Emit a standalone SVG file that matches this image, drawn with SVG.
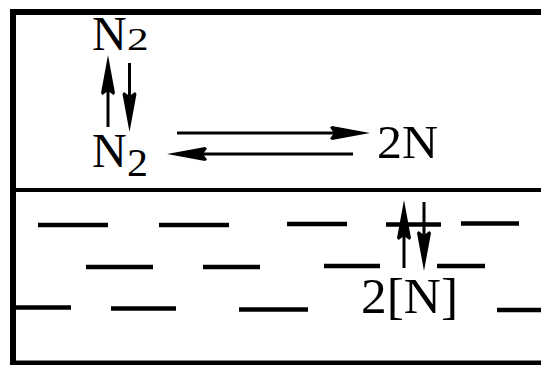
<svg xmlns="http://www.w3.org/2000/svg" width="541" height="365" viewBox="0 0 541 365">
<style>
.frame{stroke:#000;fill:none}
.dash{stroke:#000;stroke-width:4.5;fill:none}
.arr{stroke:#000;stroke-width:3;fill:none;marker-end:url(#ah)}
.t{font-family:"Liberation Serif","Times New Roman",serif;fill:#000}
</style>
<defs>
<marker id="ah" viewBox="0 -8 40 16" refX="20" refY="0" markerWidth="40" markerHeight="16" markerUnits="userSpaceOnUse" orient="auto">
<path d="M40,0 L2,-7 L0,-5.5 L4,0 L0,5.5 L2,7 Z" fill="#000"/>
</marker>
</defs>
<rect width="541" height="365" fill="#fff"/>
<g id="frame">
<line class="frame" x1="13" y1="9" x2="13" y2="365" stroke-width="6"/>
<line class="frame" x1="10" y1="12" x2="541" y2="12" stroke-width="6"/>
<line class="frame" x1="13" y1="190" x2="541" y2="190" stroke-width="4"/>
<line class="frame" x1="10" y1="363" x2="541" y2="363" stroke-width="5"/>
</g>
<g id="dashes">
<line class="dash" x1="38" y1="225" x2="108" y2="225"/>
<line class="dash" x1="159" y1="225" x2="229" y2="225"/>
<line class="dash" x1="287" y1="224" x2="347" y2="224"/>
<line class="dash" x1="386" y1="224.5" x2="441" y2="224.5"/>
<line class="dash" x1="461" y1="223.5" x2="519" y2="223.5"/>
<line class="dash" x1="86" y1="267" x2="153" y2="267"/>
<line class="dash" x1="203" y1="267" x2="260" y2="267"/>
<line class="dash" x1="324" y1="266" x2="380" y2="266"/>
<line class="dash" x1="437" y1="266" x2="485" y2="266"/>
<line class="dash" x1="16" y1="307.5" x2="71" y2="307.5"/>
<line class="dash" x1="111" y1="308.5" x2="176" y2="308.5"/>
<line class="dash" x1="239" y1="309.5" x2="308" y2="309.5"/>
<line class="dash" x1="497" y1="310" x2="541" y2="310"/>
</g>
<g id="node-n2-gas">
<text class="t" x="92" y="50" font-size="48">N</text>
<text class="t" font-size="32" transform="translate(127,50) scale(1.35,1)">2</text>
</g>
<g id="node-n2-surface">
<text class="t" x="92" y="167" font-size="48">N</text>
<text class="t" font-size="40" transform="translate(127,176) scale(1.05,1)">2</text>
</g>
<g id="node-2n">
<text class="t" x="377" y="158" font-size="47" textLength="61" lengthAdjust="spacingAndGlyphs">2N</text>
</g>
<g id="node-2n-dissolved">
<text class="t" x="361" y="313" font-size="50" textLength="97" lengthAdjust="spacingAndGlyphs">2[N]</text>
</g>
<g id="connectors">
<line class="arr" x1="108" y1="127" x2="108" y2="75"/>
<line class="arr" x1="129.5" y1="63" x2="129.5" y2="112"/>
<line class="arr" x1="177" y1="133" x2="350" y2="133"/>
<line class="arr" x1="353" y1="154" x2="187" y2="154"/>
<line class="arr" x1="404" y1="268" x2="404" y2="220"/>
<line class="arr" x1="424" y1="202" x2="424" y2="251"/>
</g>
</svg>
